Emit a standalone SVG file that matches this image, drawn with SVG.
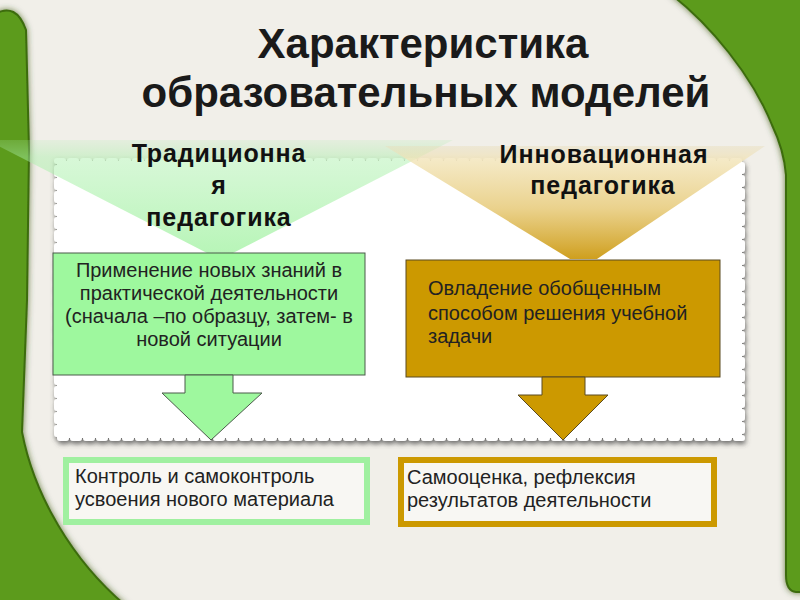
<svg xmlns="http://www.w3.org/2000/svg" width="800" height="600" viewBox="0 0 800 600">
<defs>
<style>
.title{font-family:"Liberation Sans",Arial,sans-serif;font-weight:bold;font-size:42px;fill:#1a1a1a;text-anchor:middle}
.sub{font-family:"Liberation Sans",Arial,sans-serif;font-weight:bold;font-size:25px;letter-spacing:0.9px;fill:#111;text-anchor:middle}
.txt{font-family:"Liberation Sans",Arial,sans-serif;font-size:20px;fill:#222}
.green{fill:#5c9b1c;stroke:#3c6c0e;stroke-width:2}
</style>
<linearGradient id="gTri" x1="0" y1="0" x2="0" y2="1">
<stop offset="0" stop-color="#b0eab0" stop-opacity="0.2"/>
<stop offset="0.15" stop-color="#a8efa8" stop-opacity="0.45"/>
<stop offset="1" stop-color="#a0f2a0" stop-opacity="0.75"/>
</linearGradient>
<linearGradient id="oTri" x1="0" y1="0" x2="0" y2="1">
<stop offset="0" stop-color="#e8dcb8" stop-opacity="0.4"/>
<stop offset="0.12" stop-color="#f2e4b8" stop-opacity="0.8"/>
<stop offset="0.55" stop-color="#e8cd80" stop-opacity="0.9"/>
<stop offset="1" stop-color="#cf9f1e" stop-opacity="1"/>
</linearGradient>
<filter id="sh" x="-5%" y="-5%" width="115%" height="120%">
<feDropShadow dx="1" dy="3" stdDeviation="2.5" flood-color="#444" flood-opacity="0.75"/>
</filter>
<filter id="gsh" x="-20%" y="-5%" width="140%" height="110%">
<feDropShadow dx="0" dy="0" stdDeviation="3" flood-color="#2d4d0a" flood-opacity="0.7"/>
</filter>
</defs>

<rect x="0" y="0" width="800" height="600" fill="#f1efe9"/>

<g id="frame" filter="url(#gsh)">
<path class="green" d="M-5,14 Q16,2 26,30 L29,150 L27,300 L22,432 C34,495 72,560 125,605 L-5,605 Z"/>
<path class="green" d="M672,-5 C710,25 752,75 772,125 Q784,150 786,175 L786,575 Q786,591 796,592 L805,592 L805,-5 Z"/>
</g>

<g id="panel" filter="url(#sh)">
<rect x="57" y="161" width="685" height="277" fill="#ffffff" stroke="#ffffff" stroke-width="6" stroke-linecap="round" stroke-dasharray="6 7"/>
</g>

<g id="title">
<text class="title" x="423" y="58">Характеристика</text>
<text class="title" x="426" y="107">образовательных моделей</text>
</g>

<g id="traditional">
<polygon fill="url(#gTri)" points="-13,140 453,140 233,253 207,253"/>
<text class="sub" x="219" y="162">Традиционна</text>
<text class="sub" x="219" y="194">я</text>
<text class="sub" x="219" y="226">педагогика</text>
</g>

<g id="innovative">
<polygon fill="url(#oTri)" points="385,146 765,146 597,259 570,259"/>
<text class="sub" x="604" y="163">Инновационная</text>
<text class="sub" x="603" y="194">педагогика</text>
</g>

<g id="box-apply">
<rect x="53" y="253" width="312" height="122" fill="#9ef89e" stroke="#4a5a4a" stroke-width="1"/>
<text class="txt" text-anchor="middle" x="209" y="277">Применение новых знаний в</text>
<text class="txt" text-anchor="middle" x="209" y="300">практической деятельности</text>
<text class="txt" text-anchor="middle" x="209" y="323">(сначала –по образцу, затем- в</text>
<text class="txt" text-anchor="middle" x="209" y="346">новой ситуации</text>
</g>

<g id="box-master">
<rect x="406" y="260" width="314" height="117" fill="#cc9900" stroke="#5a4a20" stroke-width="1"/>
<text class="txt" x="428" y="295" fill="#2a2200">Овладение обобщенным</text>
<text class="txt" x="428" y="320" fill="#2a2200">способом решения учебной</text>
<text class="txt" x="428" y="343" fill="#2a2200">задачи</text>
</g>

<g id="connectors">
<polygon fill="#9ef89e" stroke="#4a5a4a" stroke-width="1" points="185,375 233,375 233,393 262,393 211,440 162,393 185,393"/>
<polygon fill="#cc9900" stroke="#5a4a20" stroke-width="1" points="542,377 585,377 585,395 608,395 563,440 518,395 542,395"/>
</g>

<g id="box-control">
<rect x="66" y="460" width="301" height="62" fill="#f8f7f3" stroke="#a0f0a0" stroke-width="6"/>
<text class="txt" x="75" y="483">Контроль и самоконтроль</text>
<text class="txt" x="75" y="506">усвоения нового материала</text>
</g>

<g id="box-reflect">
<rect x="401" y="460" width="313" height="64" fill="#f8f7f3" stroke="#cc9900" stroke-width="6"/>
<text class="txt" x="407" y="484">Самооценка, рефлексия</text>
<text class="txt" x="407" y="507">результатов деятельности</text>
</g>
</svg>
